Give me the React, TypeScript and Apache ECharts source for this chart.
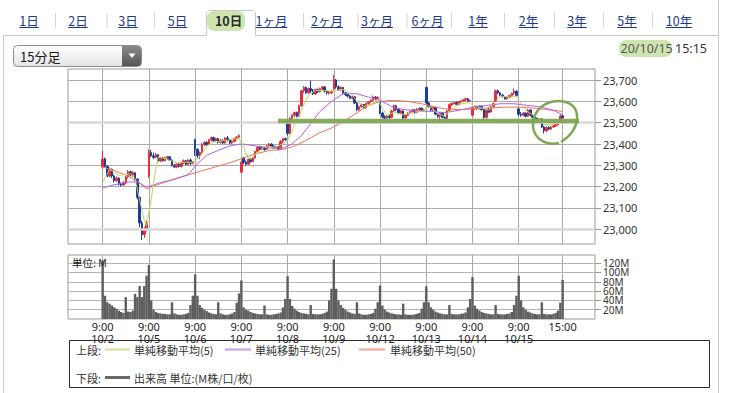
import React, { useEffect, useRef } from "react";
import * as echarts from "echarts";

// ---------- data ----------
const days = ["10/2", "10/5", "10/6", "10/7", "10/8", "10/9", "10/12", "10/13", "10/14", "10/15"];
const barTimes = ["9:00", "9:15", "9:30", "9:45", "10:00", "10:15", "10:30", "10:45", "11:00", "11:15",
  "12:30", "12:45", "13:00", "13:15", "13:30", "13:45", "14:00", "14:15", "14:30", "14:45"];
const PAD_BEFORE = 15;
const PAD_AFTER = 14;
const priceTicks = [23000, 23100, 23200, 23300, 23400, 23500, 23600, 23700];
const volumeTicks = [20, 40, 60, 80, 100, 120];
const periodTabs = ["1日", "2日", "3日", "5日", "10日", "1ヶ月", "2ヶ月", "3ヶ月", "6ヶ月", "1年", "2年", "3年", "5年", "10年"];
const selectedTab = "10日";
const timeframe = "15分足";
const stampDate = "20/10/15";
const stampTime = "15:15";
const legendTop = ["単純移動平均(5)", "単純移動平均(25)", "単純移動平均(50)"];
const legendBottom = "出来高 単位:(M株/口/枚)";

// [open, close, low, high]
const candles: number[][] = [
  // 10/2
  [23292, 23330, 23285, 23368], [23330, 23295, 23288, 23336], [23295, 23250, 23245, 23300], [23250, 23282, 23244, 23290],
  [23282, 23250, 23240, 23285], [23250, 23228, 23220, 23256], [23228, 23240, 23222, 23248], [23240, 23212, 23205, 23244],
  [23212, 23208, 23200, 23220], [23208, 23218, 23204, 23225], [23218, 23245, 23212, 23250], [23245, 23270, 23238, 23278],
  [23270, 23255, 23248, 23275], [23255, 23265, 23245, 23272], [23265, 23235, 23228, 23268], [23235, 23150, 23140, 23240],
  [23150, 23030, 23010, 23155], [23030, 22975, 22950, 23040], [22975, 23000, 22960, 23010], [23000, 23030, 22990, 23040],
  // 10/5
  [23250, 23360, 23240, 23375], [23360, 23345, 23338, 23372], [23345, 23338, 23330, 23360], [23338, 23350, 23332, 23358],
  [23350, 23320, 23315, 23352], [23320, 23335, 23315, 23340], [23335, 23322, 23318, 23340], [23322, 23335, 23318, 23340],
  [23335, 23340, 23325, 23345], [23340, 23325, 23320, 23342], [23325, 23300, 23295, 23328], [23300, 23292, 23288, 23305],
  [23292, 23305, 23288, 23310], [23305, 23295, 23290, 23310], [23295, 23310, 23290, 23315], [23310, 23322, 23305, 23328],
  [23322, 23305, 23300, 23325], [23305, 23325, 23300, 23330], [23325, 23310, 23300, 23332], [23310, 23315, 23305, 23320],
  // 10/6
  [23420, 23375, 23345, 23425], [23375, 23345, 23335, 23380], [23345, 23360, 23330, 23365], [23360, 23398, 23355, 23405],
  [23398, 23408, 23390, 23412], [23408, 23398, 23392, 23412], [23398, 23420, 23395, 23425], [23420, 23430, 23412, 23435],
  [23430, 23415, 23410, 23435], [23415, 23425, 23410, 23430], [23425, 23408, 23402, 23428], [23408, 23418, 23402, 23424],
  [23418, 23405, 23400, 23422], [23405, 23428, 23402, 23432], [23428, 23418, 23412, 23438], [23418, 23405, 23400, 23422],
  [23405, 23412, 23400, 23418], [23412, 23425, 23408, 23430], [23425, 23432, 23420, 23438], [23432, 23440, 23428, 23446],
  // 10/7
  [23268, 23315, 23262, 23320], [23335, 23315, 23305, 23338], [23315, 23305, 23298, 23322], [23305, 23328, 23300, 23332],
  [23328, 23318, 23312, 23335], [23318, 23335, 23315, 23340], [23335, 23365, 23330, 23370], [23365, 23385, 23360, 23390],
  [23385, 23375, 23370, 23392], [23375, 23385, 23370, 23390], [23385, 23375, 23368, 23388], [23375, 23392, 23372, 23396],
  [23392, 23400, 23385, 23405], [23400, 23390, 23385, 23404], [23390, 23383, 23378, 23395], [23383, 23388, 23378, 23392],
  [23388, 23375, 23370, 23392], [23375, 23412, 23372, 23418], [23412, 23425, 23405, 23430], [23425, 23420, 23415, 23430],
  // 10/8
  [23495, 23450, 23440, 23505], [23450, 23520, 23445, 23525], [23520, 23535, 23512, 23540], [23535, 23548, 23525, 23552],
  [23548, 23530, 23525, 23552], [23530, 23580, 23528, 23585], [23580, 23650, 23575, 23655], [23650, 23665, 23640, 23672],
  [23665, 23640, 23635, 23670], [23640, 23660, 23635, 23665], [23660, 23650, 23640, 23698], [23650, 23635, 23630, 23658],
  [23635, 23655, 23630, 23660], [23655, 23645, 23640, 23660], [23645, 23660, 23642, 23665], [23660, 23668, 23652, 23672],
  [23668, 23648, 23642, 23670], [23648, 23640, 23632, 23652], [23640, 23645, 23632, 23650], [23640, 23648, 23635, 23652],
  // 10/9
  [23660, 23700, 23655, 23725], [23700, 23668, 23660, 23705], [23668, 23655, 23650, 23675], [23655, 23665, 23650, 23670],
  [23665, 23640, 23632, 23668], [23640, 23632, 23625, 23645], [23632, 23625, 23618, 23636], [23625, 23615, 23610, 23630],
  [23615, 23622, 23610, 23626], [23622, 23592, 23588, 23625], [23592, 23562, 23555, 23596], [23562, 23575, 23555, 23580],
  [23575, 23585, 23570, 23590], [23585, 23570, 23565, 23588], [23570, 23590, 23566, 23594], [23590, 23598, 23585, 23602],
  [23598, 23605, 23592, 23610], [23605, 23620, 23600, 23628], [23620, 23612, 23605, 23625], [23612, 23618, 23606, 23624],
  // 10/12
  [23598, 23545, 23540, 23600], [23545, 23528, 23520, 23552], [23528, 23522, 23515, 23535], [23522, 23530, 23518, 23535],
  [23530, 23525, 23518, 23540], [23525, 23555, 23520, 23560], [23555, 23580, 23550, 23585], [23580, 23562, 23555, 23584],
  [23562, 23545, 23540, 23566], [23545, 23555, 23540, 23560], [23555, 23522, 23505, 23558], [23522, 23535, 23518, 23540],
  [23535, 23545, 23530, 23550], [23545, 23552, 23540, 23558], [23552, 23560, 23545, 23565], [23560, 23548, 23542, 23564],
  [23548, 23562, 23545, 23568], [23562, 23568, 23555, 23572], [23568, 23558, 23552, 23572], [23558, 23560, 23552, 23565],
  // 10/13
  [23665, 23592, 23588, 23670], [23592, 23575, 23570, 23598], [23575, 23560, 23555, 23580], [23560, 23572, 23555, 23576],
  [23572, 23540, 23535, 23575], [23540, 23530, 23522, 23545], [23530, 23545, 23495, 23550], [23545, 23525, 23520, 23548],
  [23525, 23520, 23514, 23530], [23520, 23555, 23518, 23560], [23555, 23585, 23550, 23590], [23585, 23590, 23578, 23595],
  [23590, 23595, 23585, 23600], [23595, 23585, 23580, 23600], [23585, 23598, 23582, 23602], [23598, 23602, 23592, 23606],
  [23602, 23608, 23598, 23612], [23608, 23612, 23602, 23618], [23612, 23602, 23598, 23616], [23602, 23604, 23596, 23608],
  // 10/14
  [23535, 23568, 23530, 23572], [23568, 23575, 23560, 23580], [23575, 23565, 23560, 23580], [23565, 23578, 23562, 23582],
  [23578, 23562, 23556, 23580], [23562, 23525, 23518, 23566], [23525, 23560, 23520, 23565], [23560, 23550, 23545, 23572],
  [23550, 23575, 23546, 23580], [23575, 23590, 23570, 23595], [23600, 23650, 23598, 23655], [23650, 23640, 23635, 23656],
  [23640, 23630, 23625, 23645], [23630, 23622, 23618, 23635], [23622, 23612, 23608, 23626], [23612, 23620, 23608, 23625],
  [23620, 23628, 23615, 23632], [23628, 23638, 23622, 23642], [23638, 23648, 23632, 23660], [23648, 23628, 23622, 23652],
  // 10/15
  [23565, 23540, 23532, 23570], [23540, 23535, 23528, 23550], [23535, 23545, 23530, 23550], [23545, 23530, 23525, 23548],
  [23530, 23560, 23526, 23565], [23560, 23535, 23530, 23562], [23535, 23525, 23520, 23540], [23525, 23520, 23514, 23530],
  [23520, 23515, 23505, 23524], [23515, 23518, 23510, 23522], [23518, 23480, 23475, 23520], [23480, 23462, 23450, 23485],
  [23462, 23478, 23455, 23482], [23478, 23470, 23465, 23484], [23470, 23480, 23466, 23485], [23480, 23485, 23476, 23490],
  [23485, 23490, 23480, 23495], [23490, 23505, 23486, 23510], [23505, 23532, 23500, 23538], [23532, 23522, 23518, 23536],
];

// volume in M
const volumes: number[] = [
  126, 50, 36, 33, 29, 25, 22, 18, 15, 13, 47, 16, 15, 18, 54, 47, 71, 47, 71, 93,
  116, 40, 20, 15, 13, 12, 11, 11, 10, 10, 36, 12, 10, 9, 9, 10, 11, 13, 30, 50,
  96, 50, 30, 24, 20, 17, 14, 12, 11, 10, 36, 12, 10, 9, 9, 10, 12, 15, 35, 55,
  83, 25, 20, 18, 15, 13, 12, 11, 10, 10, 29, 10, 9, 9, 10, 11, 12, 14, 25, 43,
  92, 43, 28, 22, 18, 15, 13, 12, 11, 10, 30, 11, 10, 10, 10, 11, 13, 16, 40, 65,
  128, 65, 40, 30, 24, 20, 16, 14, 12, 11, 36, 12, 10, 9, 9, 10, 11, 13, 22, 36,
  72, 29, 20, 16, 14, 12, 11, 10, 10, 9, 33, 10, 9, 9, 9, 10, 11, 13, 22, 36,
  70, 36, 25, 20, 16, 14, 12, 11, 10, 10, 30, 11, 10, 10, 10, 11, 12, 14, 25, 43,
  90, 29, 22, 18, 15, 13, 12, 11, 10, 10, 30, 11, 10, 10, 10, 11, 12, 15, 30, 50,
  93, 40, 25, 20, 16, 14, 12, 11, 10, 10, 36, 11, 10, 10, 10, 11, 13, 18, 35, 84,
];

// moving averages: [bar index, value]
const ma5: number[][] = [
  [0, 23222], [3, 23281], [7, 23253], [12, 23261], [14, 23237], [16, 23136], [18, 23042], [19, 23015],
  [20, 23079], [21, 23142], [22, 23215], [23, 23285], [24, 23339], [28, 23328], [32, 23312], [36, 23315], [39, 23315],
  [41, 23328], [43, 23355], [45, 23390], [48, 23409], [53, 23417], [59, 23428],
  [60, 23405], [61, 23385], [62, 23355], [64, 23328], [67, 23362], [70, 23386], [75, 23386], [79, 23406],
  [80, 23417], [83, 23487], [86, 23558], [89, 23628], [92, 23651], [96, 23651], [99, 23647],
  [100, 23651], [104, 23656], [108, 23631], [110, 23600], [113, 23576], [116, 23584], [119, 23609],
  [121, 23569], [123, 23534], [126, 23550], [130, 23537], [135, 23550], [139, 23556],
  [140, 23573], [142, 23573], [145, 23542], [148, 23531], [151, 23562], [154, 23588], [159, 23594],
  [161, 23569], [164, 23569], [167, 23558], [170, 23597], [172, 23625], [176, 23620], [179, 23625],
  [181, 23589], [183, 23558], [186, 23537], [189, 23519], [191, 23490], [194, 23490], [197, 23503], [199, 23519],
];
const ma25: number[][] = [
  [0, 23194], [5, 23209], [11, 23222], [15, 23222], [19, 23198], [25, 23219], [31, 23234], [37, 23256],
  [41, 23308], [45, 23347], [50, 23370], [55, 23391], [60, 23401], [66, 23391], [72, 23381], [78, 23381],
  [82, 23401], [86, 23440], [90, 23495], [94, 23553], [99, 23600], [104, 23636], [110, 23636], [115, 23620],
  [120, 23605], [125, 23576], [130, 23562], [136, 23556], [142, 23553], [148, 23547], [154, 23558], [160, 23572],
  [166, 23581], [172, 23589], [178, 23589], [184, 23581], [190, 23573], [195, 23558], [199, 23537],
];
const ma50: number[][] = [
  [0, 23292], [5, 23276], [11, 23250], [16, 23219], [19, 23190], [25, 23214], [32, 23240], [40, 23265],
  [47, 23287], [55, 23312], [60, 23331], [66, 23354], [72, 23369], [78, 23375], [83, 23390], [88, 23417],
  [94, 23453], [99, 23475], [104, 23503], [110, 23547], [115, 23581], [120, 23600], [126, 23605], [132, 23600],
  [138, 23589], [144, 23573], [150, 23562], [156, 23562], [162, 23566], [168, 23569], [174, 23573], [180, 23573],
  [186, 23569], [192, 23562], [199, 23553],
];

// ---------- layout ----------
const FONT = '"Noto Sans CJK JP", "Noto Sans", sans-serif';
const LATIN = '"Noto Sans", "Noto Sans CJK JP", sans-serif';
const tabCenters = [29, 78, 128, 177.5, 228.5, 271.5, 327, 377, 427.5, 478, 528.5, 577, 627, 679];
const tabSeparators = [55, 106.5, 154, 303, 357.5, 406.5, 451, 504, 554, 603, 652];
const VOL_MAX = 137.6;
const VOL_TOP = 255;
const VOL_H = 64;

echarts.graphic.registerShape(
  "handLoop",
  echarts.graphic.extendPath(
    "M 559 143 C 546 146 534 139 533 126 C 532 111 545 101 558 101 C 571 101 578 108 577 119 C 576 130 569 137 561 142",
    {}
  )
);

function textWidth(text: string, size: number, weight = "normal") {
  const ctx = document.createElement("canvas").getContext("2d");
  if (!ctx) return text.length * size * 0.8;
  ctx.font = `${weight} ${size}px ${FONT}`;
  return ctx.measureText(text).width;
}

function fmtThousands(v: number) {
  return String(v).replace(/\B(?=(\d{3})+(?!\d))/g, ",");
}

export default function App() {
  const ref = useRef<HTMLDivElement>(null);

  useEffect(() => {
    if (!ref.current) return;
    const chart = echarts.init(ref.current, null, { renderer: "svg" });

    const categories: string[] = [];
    for (let i = 0; i < PAD_BEFORE; i++) categories.push(`pre${i}`);
    days.forEach((d) => barTimes.forEach((t) => categories.push(`${d} ${t}`)));
    for (let i = 0; i < PAD_AFTER; i++) categories.push(`post${i}`);

    const labelMap: Record<number, string> = {};
    days.forEach((d, i) => {
      labelMap[PAD_BEFORE + i * barTimes.length] = `9:00\n${d}`;
    });
    const lastIdx = PAD_BEFORE + days.length * barTimes.length - 1;
    labelMap[lastIdx] = "15:00";
    const isMarked = (i: number) => labelMap[i] !== undefined;

    const candleData = candles.map((r, j) => [PAD_BEFORE + j, r[0], r[1], r[2], r[3]]);
    const volData = volumes.map((v, j) => [PAD_BEFORE + j, v]);
    const shift = (arr: number[][]) => arr.map(([j, v]) => [PAD_BEFORE + j, v]);

    const xBase = {
      type: "category" as const,
      data: categories,
      boundaryGap: false,
      axisLine: { show: false },
      axisTick: { show: false },
      splitLine: { show: true, interval: (i: number) => isMarked(i), lineStyle: { color: "#a9a9a9", width: 1 } },
    };

    // graphics
    const g: any[] = [];
    const border = "#c9c9c9";
    g.push({ type: "line", shape: { x1: 3.5, y1: 35.5, x2: 206.5, y2: 35.5 }, style: { stroke: border, lineWidth: 1 } });
    g.push({ type: "line", shape: { x1: 255.5, y1: 35.5, x2: 718.5, y2: 35.5 }, style: { stroke: border, lineWidth: 1 } });
    g.push({ type: "line", shape: { x1: 3.5, y1: 35.5, x2: 3.5, y2: 393 }, style: { stroke: border, lineWidth: 1 } });
    g.push({ type: "line", shape: { x1: 718.5, y1: 0, x2: 718.5, y2: 393 }, style: { stroke: border, lineWidth: 1 } });
    g.push({
      type: "polyline",
      shape: { points: [[206.5, 35.5], [206.5, 13], [209, 10.5], [253, 10.5], [255.5, 13], [255.5, 35.5]] },
      style: { stroke: border, lineWidth: 1, fill: null },
    });
    g.push({ type: "rect", shape: { x: 207, y: 11, width: 38, height: 20, r: 7 }, style: { fill: "rgba(168,208,112,0.55)" } });
    periodTabs.forEach((t, i) => {
      const sel = t === selectedTab;
      g.push({
        type: "text",
        x: tabCenters[i],
        y: 20,
        style: {
          text: t,
          fontSize: 12.5,
          fontFamily: FONT,
          fontWeight: sel ? "bold" : "normal",
          fill: sel ? "#2a2a2a" : "#20398c",
          align: "center",
          verticalAlign: "middle",
        },
      });
      if (!sel) {
        const w = textWidth(t, 12.5);
        g.push({
          type: "line",
          shape: { x1: tabCenters[i] - w / 2, y1: 27.5, x2: tabCenters[i] + w / 2, y2: 27.5 },
          style: { stroke: "#20398c", lineWidth: 1 },
        });
      }
    });
    tabSeparators.forEach((x) => {
      g.push({ type: "line", shape: { x1: x + 0.5, y1: 13, x2: x + 0.5, y2: 28 }, style: { stroke: "#d4d4d4", lineWidth: 1 } });
    });

    // dropdown
    g.push({
      type: "rect",
      shape: { x: 13.5, y: 45.5, width: 128, height: 21, r: 4 },
      style: {
        fill: new echarts.graphic.LinearGradient(0, 0, 0, 1, [
          { offset: 0, color: "#ffffff" },
          { offset: 1, color: "#e3e3e3" },
        ]),
        stroke: "#8c8c8c",
        lineWidth: 1,
      },
    });
    g.push({
      type: "rect",
      shape: { x: 122, y: 46, width: 19, height: 20, r: [0, 3.5, 3.5, 0] },
      style: {
        fill: new echarts.graphic.LinearGradient(0, 0, 0, 1, [
          { offset: 0, color: "#8a8a8a" },
          { offset: 1, color: "#555555" },
        ]),
      },
    });
    g.push({ type: "polygon", shape: { points: [[128.5, 53.5], [135.5, 53.5], [132, 58]] }, style: { fill: "#ffffff" } });
    g.push({
      type: "text",
      x: 20,
      y: 56.5,
      style: { text: timeframe, fontSize: 13, fontFamily: FONT, fill: "#1a1a1a", verticalAlign: "middle" },
    });

    // timestamp with highlight
    g.push({ type: "rect", shape: { x: 619, y: 40, width: 53, height: 17, r: 7 }, style: { fill: "rgba(168,208,112,0.55)" } });
    const timeW = textWidth(stampTime, 12.5);
    g.push({
      type: "text",
      x: 707,
      y: 48.5,
      style: { text: stampTime, fontSize: 12.5, fontFamily: LATIN, fill: "#333", align: "right", verticalAlign: "middle" },
    });
    g.push({
      type: "text",
      x: 707 - timeW - 3,
      y: 48.5,
      style: { text: stampDate, fontSize: 12.5, fontFamily: LATIN, fill: "#555", align: "right", verticalAlign: "middle" },
    });

    // volume unit label
    g.push({
      type: "text",
      x: 72,
      y: 262,
      z: 20,
      style: { text: "単位: M", fontSize: 10.5, fontFamily: FONT, fill: "#222", verticalAlign: "middle" },
    });

    // volume axis labels: one stacked block whose line pitch equals the tick pitch
    const pitch = (20 / VOL_MAX) * VOL_H;
    const topTick = volumeTicks[volumeTicks.length - 1];
    const topY = VOL_TOP + VOL_H - (topTick / VOL_MAX) * VOL_H;
    g.push({
      type: "text",
      x: 603,
      y: topY - pitch / 2,
      z: 20,
      style: {
        text: [...volumeTicks].reverse().map((v) => `${v}M`).join("\n"),
        fontSize: 10,
        lineHeight: pitch,
        fontFamily: LATIN,
        fill: "#333",
        verticalAlign: "top",
      },
    });

    // hand-drawn annotations
    g.push({
      type: "line",
      z: 30,
      shape: { x1: 278, y1: 121, x2: 579, y2: 121 },
      style: { stroke: "#7fa653", lineWidth: 4.5, opacity: 0.95 },
    });
    g.push({
      type: "handLoop",
      z: 30,
      x: 0,
      y: 0,
      style: { fill: "none", stroke: "#7fa653", lineWidth: 2.5 },
    });

    // legend box
    g.push({
      type: "rect",
      shape: { x: 69.5, y: 340.5, width: 640, height: 47 },
      style: { fill: "none", stroke: "#2a2a2a", lineWidth: 1 },
    });
    const lgText = (text: string, x: number, y: number) => ({
      type: "text",
      x,
      y,
      style: { text, fontSize: 11, fontFamily: FONT, fill: "#333", verticalAlign: "middle" },
    });
    const lgLine = (x1: number, x2: number, y: number, color: string, w: number) => ({
      type: "line",
      shape: { x1, y1: y, x2, y2: y },
      style: { stroke: color, lineWidth: w },
    });
    g.push(lgText("上段:", 76, 349.5));
    g.push(lgLine(105, 130, 349.5, "#d3e19a", 2));
    g.push(lgText(legendTop[0], 134, 349.5));
    g.push(lgLine(225, 251, 349.5, "#c89deb", 2));
    g.push(lgText(legendTop[1], 255, 349.5));
    g.push(lgLine(359, 385, 349.5, "#f2a48f", 2));
    g.push(lgText(legendTop[2], 390, 349.5));
    g.push(lgText("下段:", 76, 377.5));
    g.push(lgLine(105, 130, 377.5, "#6a6a6a", 3));
    g.push(lgText(legendBottom, 134, 377.5));

    const option: any = {
      animation: false,
      backgroundColor: "#ffffff",
      textStyle: { fontFamily: LATIN },
      grid: [
        { left: 68, width: 527, top: 69, height: 175, show: true, borderColor: "#9a9a9a", borderWidth: 1 },
        { left: 68, width: 527, top: VOL_TOP, height: VOL_H, show: true, borderColor: "#9a9a9a", borderWidth: 1 },
      ],
      xAxis: [
        { ...xBase, gridIndex: 0, axisLabel: { show: false } },
        {
          ...xBase,
          gridIndex: 1,
          axisLabel: {
            show: true,
            interval: (i: number) => isMarked(i),
            formatter: (_v: string, i: number) => labelMap[i] ?? "",
            fontSize: 11,
            lineHeight: 12,
            margin: 1,
            color: "#222",
            fontFamily: LATIN,
          },
        },
      ],
      yAxis: [
        {
          type: "value",
          gridIndex: 0,
          position: "right",
          min: 22931,
          max: 23752,
          axisLine: { show: false },
          axisTick: { show: true, length: 6, customValues: priceTicks, lineStyle: { color: "#9a9a9a" } },
          axisLabel: {
            customValues: priceTicks,
            formatter: (v: number) => fmtThousands(v),
            fontSize: 11,
            margin: 8,
            color: "#333",
            fontFamily: LATIN,
          },
          splitLine: { show: true, lineStyle: { color: "#ababab", width: 1 } },
        },
        {
          type: "value",
          gridIndex: 1,
          position: "right",
          min: 0,
          max: VOL_MAX,
          axisLine: { show: false },
          axisTick: { show: true, length: 6, customValues: volumeTicks, lineStyle: { color: "#9a9a9a" } },
          axisLabel: { show: false, customValues: volumeTicks },
          splitLine: { show: true, lineStyle: { color: "#b5b5b5", width: 1 } },
        },
      ],
      series: [
        {
          type: "line",
          xAxisIndex: 0,
          yAxisIndex: 0,
          data: [],
          z: 1,
          silent: true,
          markLine: {
            silent: true,
            symbol: "none",
            label: { show: false },
            lineStyle: { color: "#d9d9d9", width: 2.5, type: "solid" },
            data: [{ yAxis: 23000 }, { yAxis: 23500 }],
          },
        },
        {
          type: "candlestick",
          xAxisIndex: 0,
          yAxisIndex: 0,
          z: 3,
          dimensions: ["x", "open", "close", "lowest", "highest"],
          encode: { x: "x", y: ["open", "close", "lowest", "highest"] },
          data: candleData,
          barWidth: 2,
          itemStyle: {
            color: "#e2313a",
            color0: "#1d3c9c",
            borderColor: "#e2313a",
            borderColor0: "#1d3c9c",
            borderWidth: 1,
          },
        },
        {
          type: "line",
          name: "MA50",
          xAxisIndex: 0,
          yAxisIndex: 0,
          z: 4,
          data: shift(ma50),
          symbol: "none",
          lineStyle: { color: "#ef7452", width: 1 },
        },
        {
          type: "line",
          name: "MA25",
          xAxisIndex: 0,
          yAxisIndex: 0,
          z: 4,
          data: shift(ma25),
          symbol: "none",
          lineStyle: { color: "#b35fe8", width: 1 },
        },
        {
          type: "line",
          name: "MA5",
          xAxisIndex: 0,
          yAxisIndex: 0,
          z: 4,
          data: shift(ma5),
          symbol: "none",
          lineStyle: { color: "#bdd45c", width: 1 },
        },
        {
          type: "bar",
          xAxisIndex: 1,
          yAxisIndex: 1,
          data: volData,
          barWidth: 2.4,
          itemStyle: { color: "#5e5e5e" },
        },
      ],
      graphic: { elements: g },
    };

    chart.setOption(option);
    return () => chart.dispose();
  }, []);

  return (
    <div
      ref={ref}
      style={{ position: "fixed", left: 0, top: 0, width: 731, height: 393, background: "#fff" }}
    />
  );
}
